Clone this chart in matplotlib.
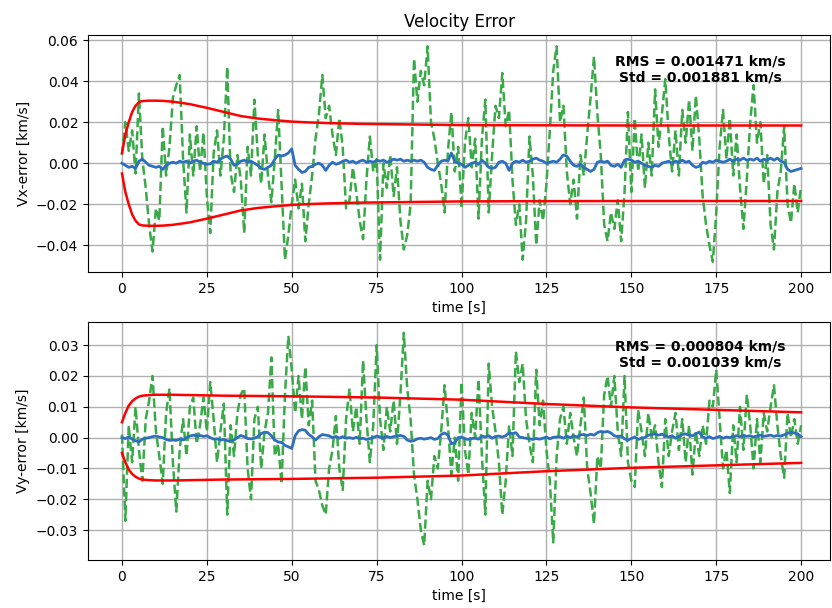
import numpy as np
import matplotlib
matplotlib.use("Agg")
import matplotlib.pyplot as plt

# time axis, one sample per second
t = np.arange(0, 201)

# Vx: measurement error (green), filter error (blue), in m/s
vx_meas = [4, 20, 6, 16, -5, 34, 2, -12, -30, -43,
           -22, -28, 18, -6, 8, 32, 38, 43, 2, -24,
           14, -6, 18, -4, 15, -16, -34, 5, 16, -6,
           12, 47, -5, -14, 4, -8, -34, 8, -6, 31,
           4, -10, 14, -6, -19, 2, 26, -10, -47, -35,
           -20, -8, -22, -10, -38, -20, -6, 12, 24, 43,
           22, 28, 14, 4, 22, 8, -22, -18, -2, -14,
           -28, -37, -8, 13, -4, 2, -47, 0, -12, 4,
           -16, -2, -28, -42, -35, -20, 51, 30, 45, 38,
           57, 20, 12, 0, -10, -24, 6, 25, -4, 8,
           -22, 10, 22, -2, 12, -27, 12, 31, -24, 4,
           28, 22, 44, 18, 26, -8, -30, -20, -47, -28,
           13, -6, -40, -18, -28, -10, 16, 45, 57, 20,
           28, -4, -20, -8, -27, 4, -6, 14, 32, 52,
           24, 4, -30, -38, -24, -32, -18, -38, -14, 25,
           -14, 22, -4, 14, -12, 10, -6, 36, 8, 24,
           41, 14, -4, 16, -6, 26, 10, 31, 6, 33,
           12, -16, -30, -40, -48, -24, 8, 26, 2, 22,
           -6, 14, -12, -32, -8, 20, 38, 10, 20, -10,
           4, -30, -42, -14, -4, 18, -20, -29, -10, -24,
           -11]
vx_est = [0, -1, -2, -1.5, -2.5, 1, 2, 0.5, -1, -1.5,
          -2, -1.5, -3, -1, 0, 0.5, 0, 1, 0.5, 1,
          0, 1, 1.5, 0.5, 0, -0.5, -0.3, 1, 0.5, 2,
          3, 3.5, 2, -1, -0.5, 1, 1.5, 0.5, 1, 0,
          -1, -2.5, -3, -2, -1, 2, 4, 3.5, 4, 5,
          7, -1, -3, -4.5, -4, -2, -1.5, -0.5, 0, -1,
          -3.5, -1, 0.5, -0.5, 0, 1, 1.5, 0.5, 1, 0,
          1, 1.5, 0.5, 1, 0.5, 1.5, 1, 1.5, 0.5, 1,
          2, 1.5, 2, 1, 1.5, 1, 1.5, 1, 1.5, 0.5,
          -2, -3, -3.5, -1, 1, 1.5, 1, 5, 1, 0,
          -0.5, -2, -1, 0, 0.5, -0.5, 1.5, 0, -2, -2.5,
          -2, 0.5, 1, 0, -3.5, 0, 1, 0.5, 1.5, 0.5,
          1, 2, 2.5, 1.5, 1, 0, 0.5, 1, 0.5, 2,
          4, 3.5, 1, -1, -1.5, -0.5, -2, -3, -4, -3,
          0.5, 1, 0.5, 1, -1, -1.5, -0.5, -2, 1.5, 2,
          1.5, 0.5, 1, 0, -1, -1.5, -2, -1, -1.5, 0,
          0.5, 1, 0, 1, 0.5, 1.5, 0.5, 1, -1, -2,
          -1.5, 0.5, 0, 1, 0.5, 1.5, 1, 0.5, 1, 2,
          1, 2, 1.5, 2.5, 1.5, 2, 1.5, 2.5, 1, 2,
          1.5, 2.5, 1.5, 2.5, 1, 0.5, -3, -4, -3.5, -3,
          -2.5]
# 1-sigma bound for Vx (m/s)
sx_t = [0, 1, 2, 3, 4, 5, 6, 8, 10, 12, 15, 18, 20, 25, 30, 35, 40, 45,
        50, 55, 60, 70, 80, 90, 100, 120, 150, 200]
sx_val = [5, 14, 20, 25, 28, 29.8, 30.3, 30.5, 30.5, 30.4, 30, 29.3, 28.8,
          27, 25, 23, 21.8, 21, 20.3, 19.9, 19.6, 19.2, 19, 18.8, 18.6,
          18.5, 18.4, 18.4]

# Vy: measurement error (green), filter error (blue), in m/s
vy_meas = [1, -27, 4, -8, 10, -4, -14, 6, 12, 20,
           2, -6, -15, 8, 16, -8, -24, -4, 6, -6,
           10, 13, -2, 4, 13, 2, 18, 6, -8, 2,
           11, -25, 4, -6, 8, 14, 16, -10, -20, 6,
           10, -10, 2, 8, 26, -6, -2, -15, 14, 33,
           22, 8, 20, 6, 23, 4, 12, -14, -17, -22,
           -25, -10, -4, 7, -10, -17, 6, 16, 2, 10,
           -2, 25, 6, -8, 4, 30, 6, -4, 10, 2,
           12, -2, 14, 34, 16, 6, -12, -20, -30, -35,
           -14, -20, -6, -10, 2, 17, 4, -12, 0, -14,
           18, -4, -12, 8, 0, 19, -6, -25, 24, 10,
           2, -8, -25, -14, 4, -6, 28, 18, 24, 6,
           -2, -8, 22, 4, 12, -4, -14, -34, -6, 6,
           10, -2, 8, 0, -6, 4, 13, -10, -18, -28,
           -6, -10, 14, 20, 10, 20, 2, -6, 20, -8,
           -14, -16, 9, 2, -6, 8, 0, 4, -8, -16,
           6, -6, 2, 8, -4, 6, -8, 4, -12, 2,
           -6, 4, -2, 12, 10, 22, 6, -10, -4, -18,
           4, -8, 10, -4, 14, 4, -10, 6, -8, 8,
           2, 10, 17, 4, -6, -13, 8, 0, 6, -2,
           4]
vy_est = [0, -0.3, 0.2, -0.5, -1, -1.4, -0.5, -0.2, 0, 0.3,
          0.5, 0.2, 0, -0.6, -0.9, -0.8, -0.9, -0.5, -0.7, 0,
          0.5, 0.8, 0.5, 0.7, 0.4, 0.6, 0, -0.5, -0.4, -0.8,
          -0.6, -1, -1.2, -0.8, 0, 0.7, 0.3, -0.3, -0.4, -0.2,
          0.3, 1.3, 1.8, 1.6, 0.6, -0.8, -1.4, -1.6, -2.5, -3,
          -3.5, 0.6, 2.2, 2.6, 2.4, 1, 0.3, -0.8, 0.3, 1,
          0.8, 0.6, 0, 0.4, -0.2, 0.3, -0.2, 0, -0.3, 0.1,
          -0.4, -0.2, -0.6, -0.3, 0, 0.5, 0.2, -0.2, 0.4, 0,
          0.3, 0.6, 0.7, 0.4, -0.8, -1.2, -1, -0.4, -0.2, -0.5,
          -0.3, 0, -0.6, -0.3, 1, 1.5, 0.8, -2, -1.6, 0,
          0.2, -0.4, -0.6, -0.3, -0.2, -0.5, 0.5, 0.2, 0.6, -0.2,
          0.4, 0.5, 0.2, 0.6, 1.5, 1.3, 1.6, 0.2, 0, -0.2,
          -0.4, -0.6, -0.3, -0.5, -0.2, 0.2, -0.4, 0.1, 0.2, 0.3,
          -0.2, 0.5, 0, 0.6, 0.2, 0.9, 1, 0.7, 1.1, 0.8,
          1.6, 2, 1.8, 2, 1.5, 0.6, 0.3, 0.5, -0.4, -0.8,
          -0.3, 0.2, -0.6, -0.2, 0, 0.8, 1, 1.2, 0.8, 1.1,
          0.5, 0.2, 0.6, -0.2, 0.4, 1, 1.2, 0.8, 0.6, 1.2,
          1.8, 0.2, -0.2, 0.3, -0.3, 0, 0.4, -0.2, 0.2, 0,
          0.4, 0.6, 0.3, 0.7, 0.4, 0.6, 0.2, 0.5, 0.8, 0.4,
          0.6, 0.8, 0.4, 0.7, 0.5, 0.9, 1.4, 1.8, 1.5, 1.2,
          0.3]
# 1-sigma bound for Vy (m/s)
sy_t = [0, 1, 2, 3, 4, 5, 6, 8, 10, 15, 20, 30, 40, 50, 75, 100, 125,
        150, 175, 200]
sy_val = [5, 8, 10.4, 11.8, 12.7, 13.3, 13.6, 13.8, 13.9, 13.9, 13.8,
          13.6, 13.5, 13.4, 13, 12.3, 10.9, 9.8, 9, 8.2]

rms_txt = ["RMS = 0.001471 km/s\nStd = 0.001881 km/s",
           "RMS = 0.000804 km/s\nStd = 0.001039 km/s"]

green = '#3aaa48'
blue = '#2e6fbd'

fig = plt.figure(figsize=(8.32, 6.08), dpi=100)
ax1 = fig.add_axes([88/832, 1-272/608, 742/832, 237/608])
ax2 = fig.add_axes([88/832, 1-560/608, 742/832, 238/608])

panels = [(ax1, vx_meas, vx_est, sx_t, sx_val, "Vx-error [km/s]"),
          (ax2, vy_meas, vy_est, sy_t, sy_val, "Vy-error [km/s]")]

for i, (ax, meas, est, st, sv, lab) in enumerate(panels):
    ax.plot(t, np.array(meas)/1000., color=green, linestyle='--', lw=1.8)
    ax.plot(t, np.array(est)/1000., color=blue, lw=2)
    ax.plot(st, np.array(sv)/1000., color='red', lw=1.8)
    ax.plot(st, -np.array(sv)/1000., color='red', lw=1.8)
    ax.set_ylabel(lab)
    ax.set_xlabel('time [s]')
    ax.set_xlim(-10, 208.5)
    ax.set_xticks(np.arange(0, 201, 25))
    ax.grid(True, color='#b0b0b0', lw=1)
    ax.text(0.825, 0.855 if i == 0 else 0.862, rms_txt[i], transform=ax.transAxes,
            ha='center', va='center', fontsize=10, fontweight='bold')

ax1.set_title('Velocity Error')
ax1.set_ylim(-0.053, 0.0625)
ax1.set_yticks([-0.04, -0.02, 0.0, 0.02, 0.04, 0.06])
ax2.set_ylim(-0.0397, 0.0375)
ax2.set_yticks([-0.03, -0.02, -0.01, 0.0, 0.01, 0.02, 0.03])

fig.savefig('out.png', dpi=100)
